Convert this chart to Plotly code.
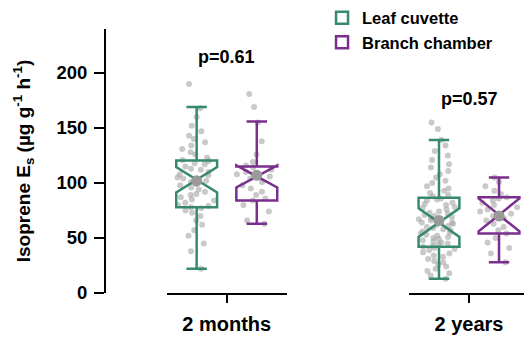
import plotly.graph_objects as go

# ---------------- data ----------------
groups = ["2 months", "2 years"]
series = ["Leaf cuvette", "Branch chamber"]

leaf_2m = [190, 168, 160, 152, 147, 143, 140, 137, 134, 131, 128, 126, 123, 121, 120, 118,
           117, 115, 113, 112, 110, 108, 107, 105, 104, 103, 102, 101, 99, 98, 96, 94, 92,
           90, 89, 87, 85, 84, 82, 80, 79, 78, 77, 75, 73, 70, 66, 62, 57, 52, 45, 38, 22]
branch_2m = [181, 169, 155, 138, 126, 119, 116, 114, 112, 110, 108, 106, 104, 101, 98, 95,
             92, 89, 86, 84, 80, 74, 66, 63]
leaf_2y = [155, 149, 139, 134, 129, 125, 121, 117, 114, 111, 108, 105, 102, 100, 97, 95, 93,
           91, 89, 88, 86, 85, 84, 82, 81, 80, 78, 77, 76, 74, 73, 72, 71, 70, 69, 68, 67,
           66, 65, 64, 64, 63, 62, 61, 60, 59, 58, 57, 56, 55, 54, 53, 52, 51, 50, 49, 48,
           47, 46, 45, 44, 43, 42, 41, 40, 39, 37, 36, 34, 33, 31, 29, 28, 26, 24, 22, 20,
           18, 16, 13]
branch_2y = [105, 101, 97, 93, 90, 87, 86, 84, 82, 80, 78, 76, 74, 72, 70, 68, 66, 63, 60,
             57, 54, 50, 46, 41, 36, 28]

# box statistics
q1 = {"leaf": [78, 42], "branch": [84, 54]}
median = {"leaf": [103, 64], "branch": [106, 71]}
q3 = {"leaf": [120.5, 86.5], "branch": [115, 87]}
lowerfence = {"leaf": [22, 13], "branch": [63, 28]}
upperfence = {"leaf": [169, 139], "branch": [156, 105]}
notchspan = {"leaf": [11.5, 13], "branch": [10, 15]}
means = {"leaf": [102, 66], "branch": [107, 70]}

pvalues = ["p=0.61", "p=0.57"]
p_ypos = [215, 176]

# ---------------- style ----------------
GREEN = "#36896f"
PURPLE = "#7a2e8e"
POINT = "rgba(165,165,165,0.6)"
MEANC = "#9a9a9a"
FONT = "Liberation Sans, Arial, sans-serif"

raw = {("leaf", 0): leaf_2m, ("branch", 0): branch_2m,
       ("leaf", 1): leaf_2y, ("branch", 1): branch_2y}
colors = {"leaf": GREEN, "branch": PURPLE}
names = {"leaf": series[0], "branch": series[1]}
xaxes = ["x", "x2"]

fig = go.Figure()

for gi, g in enumerate(groups):
    xa = xaxes[gi]
    # jittered individual points (drawn first, behind the boxes)
    for key in ["leaf", "branch"]:
        vals = raw[(key, gi)]
        fig.add_trace(go.Box(
            x=[g] * len(vals), y=vals, xaxis=xa, yaxis="y",
            offsetgroup=key, alignmentgroup="a",
            boxpoints="all", jitter=1.0, pointpos=0,
            marker=dict(color=POINT, size=6, line=dict(width=0)),
            line=dict(color="rgba(0,0,0,0)", width=0),
            fillcolor="rgba(0,0,0,0)", showlegend=False, hoverinfo="skip"))
    # notched boxes from statistics
    for key in ["leaf", "branch"]:
        fig.add_trace(go.Box(
            x=[g], xaxis=xa, yaxis="y",
            q1=[q1[key][gi]], median=[median[key][gi]], q3=[q3[key][gi]],
            lowerfence=[lowerfence[key][gi]], upperfence=[upperfence[key][gi]],
            notchspan=[notchspan[key][gi]], notched=True, notchwidth=0.5,
            whiskerwidth=0.5,
            offsetgroup=key, alignmentgroup="a",
            name=names[key], legendgroup=key, showlegend=(gi == 0),
            line=dict(color=colors[key], width=2.5),
            fillcolor="rgba(255,255,255,0)", boxpoints=False))
    # mean markers
    for key in ["leaf", "branch"]:
        fig.add_trace(go.Box(
            x=[g], y=[means[key][gi]], xaxis=xa, yaxis="y",
            offsetgroup=key, alignmentgroup="a",
            boxpoints="all", jitter=0, pointpos=0,
            marker=dict(color=MEANC, size=11, line=dict(width=0)),
            line=dict(color="rgba(0,0,0,0)", width=0),
            fillcolor="rgba(0,0,0,0)", showlegend=False, hoverinfo="skip"))

axis_common = dict(showline=True, linewidth=2, linecolor="black", ticks="outside",
                   ticklen=8, tickwidth=2, tickcolor="black", showgrid=False,
                   zeroline=False, type="category", ticklabelstandoff=4,
                   tickfont=dict(family=FONT, size=20, color="black", weight="bold"))

fig.update_layout(
    width=524, height=341,
    margin=dict(l=105, r=0, t=29, b=48),
    paper_bgcolor="white", plot_bgcolor="white",
    boxmode="group", boxgap=0, boxgroupgap=0.32,
    font=dict(family=FONT, color="black"),
    xaxis=dict(domain=[0.147, 0.434], range=[-0.5, 0.5], anchor="y", **axis_common),
    xaxis2=dict(domain=[0.7255, 1.0], range=[-0.5, 0.458], anchor="y", **axis_common),
    yaxis=dict(range=[0, 240], tickvals=[0, 50, 100, 150, 200], anchor="free",
               position=0, showline=True, linewidth=2, linecolor="black",
               ticks="outside", ticklen=10, tickwidth=2, tickcolor="black",
               showgrid=False, zeroline=False, ticklabelstandoff=3,
               tickfont=dict(family=FONT, size=18.5, color="black", weight="bold"),
               title=dict(text="Isoprene E<sub>s</sub> (µg g<sup>-1</sup> h<sup>-1</sup>)",
                          font=dict(family=FONT, size=19, color="black", weight="bold"),
                          standoff=20)),
    legend=dict(x=0.518, y=1.108, xanchor="left", yanchor="top",
                font=dict(family=FONT, size=16.5, color="black", weight="bold"),
                bgcolor="rgba(0,0,0,0)", tracegroupgap=0),
)

for gi, g in enumerate(groups):
    fig.add_annotation(x=g, y=p_ypos[gi], xref=xaxes[gi], yref="y", text=pvalues[gi],
                       showarrow=False,
                       font=dict(family=FONT, size=18, color="black", weight="bold"))

fig.write_html("out.html", config={"displayModeBar": False},
               post_script="document.body.style.margin='0';")
